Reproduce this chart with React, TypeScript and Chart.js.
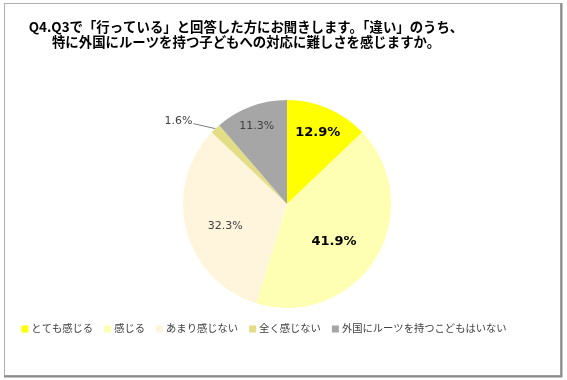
import { useEffect, useRef } from "react";
import { Chart, registerables } from "chart.js";

Chart.register(...registerables);

const titleLines = [
  "Q4.Q3で「行っている」と回答した方にお聞きします。「違い」のうち、",
  "特に外国にルーツを持つ子どもへの対応に難しさを感じますか。",
];
const categories = [
  "とても感じる",
  "感じる",
  "あまり感じない",
  "全く感じない",
  "外国にルーツを持つこどもはいない",
];
const values = [12.9, 41.9, 32.3, 1.6, 11.3];
const valueLabels = ["12.9%", "41.9%", "32.3%", "1.6%", "11.3%"];
const colors = ["#FFFF00", "#FFFFB3", "#FFF5DC", "#E3DE86", "#A6A6A6"];

// label styling per slice: radius fraction, angle offset (deg), bold, outside
const labelStyles = [
  { r: 0.75, da: 0, bold: true, size: 13, outside: false },
  { r: 0.58, da: 7, bold: true, size: 13, outside: false },
  { r: 0.63, da: -5, bold: false, size: 11, outside: false },
  { r: 1.0, da: 0, bold: false, size: 11, outside: true },
  { r: 0.8, da: -1, bold: false, size: 11, outside: false },
];

const JP = '"Noto Sans CJK JP", sans-serif';
const NUM = '"DejaVu Sans", sans-serif';

const decorPlugin = {
  id: "decor",
  beforeDraw(chart: any) {
    const ctx = chart.ctx;
    ctx.save();
    ctx.fillStyle = "#ffffff";
    ctx.fillRect(0, 0, chart.width, chart.height);
    ctx.restore();
  },
  afterDraw(chart: any) {
    const ctx = chart.ctx;
    const meta = chart.getDatasetMeta(0);
    ctx.save();

    // slice labels
    meta.data.forEach((arc: any, i: number) => {
      const st = labelStyles[i];
      const { x, y, startAngle, endAngle, outerRadius } = arc.getProps(
        ["x", "y", "startAngle", "endAngle", "outerRadius"],
        true
      );
      const mid = (startAngle + endAngle) / 2 + (st.da * Math.PI) / 180;
      ctx.fillStyle = "#404040";
      if (st.outside) {
        const ex = x + Math.cos(mid) * outerRadius;
        const ey = y + Math.sin(mid) * outerRadius;
        const lx = ex - 22;
        const ly = ey - 5;
        ctx.strokeStyle = "#7f7f7f";
        ctx.lineWidth = 1;
        ctx.beginPath();
        ctx.moveTo(ex, ey);
        ctx.lineTo(lx, ly);
        ctx.stroke();
        ctx.font = `${st.size}px ${NUM}`;
        ctx.textAlign = "right";
        ctx.textBaseline = "middle";
        ctx.fillText(valueLabels[i], lx - 1, ly - 2);
      } else {
        const lx = x + Math.cos(mid) * outerRadius * st.r;
        const ly = y + Math.sin(mid) * outerRadius * st.r;
        ctx.font = `${st.bold ? "bold " : ""}${st.size}px ${NUM}`;
        ctx.fillStyle = st.bold ? "#000000" : "#404040";
        ctx.textAlign = "center";
        ctx.textBaseline = "middle";
        ctx.fillText(valueLabels[i], lx, ly);
      }
    });

    // title
    ctx.fillStyle = "#000000";
    ctx.font = `bold 13.4px ${JP}`;
    ctx.textAlign = "center";
    ctx.textBaseline = "middle";
    titleLines.forEach((t, i) => {
      ctx.fillText(t, 246, 27 + i * 15);
    });

    // legend
    ctx.font = `10.3px ${JP}`;
    const box = 7;
    const gapBoxText = 3;
    const gapItems = 11;
    const widths = categories.map((c) => box + gapBoxText + ctx.measureText(c).width);
    const total = widths.reduce((a, b) => a + b, 0) + gapItems * (categories.length - 1);
    let lx = 264 - total / 2;
    const ly = 328;
    categories.forEach((c, i) => {
      ctx.fillStyle = colors[i];
      ctx.fillRect(lx, ly - box / 2 + 1, box, box);
      ctx.fillStyle = "#404040";
      ctx.textAlign = "left";
      ctx.textBaseline = "middle";
      ctx.fillText(c, lx + box + gapBoxText, ly);
      lx += widths[i] + gapItems;
    });

    // frame
    ctx.strokeStyle = "#b0b0b0";
    ctx.lineWidth = 1;
    ctx.strokeRect(4.5, 3.5, 556, 372);
    ctx.strokeStyle = "#8c8c8c";
    ctx.lineWidth = 2;
    ctx.beginPath();
    ctx.moveTo(561.5, 3);
    ctx.lineTo(561.5, 376.5);
    ctx.lineTo(4, 376.5);
    ctx.stroke();
    ctx.restore();
  },
};

export default function App() {
  const ref = useRef<HTMLCanvasElement>(null);
  useEffect(() => {
    document.body.style.margin = "0";
    if (!ref.current) return;
    const chart = new Chart(ref.current, {
      type: "pie",
      data: {
        labels: categories,
        datasets: [
          {
            data: values,
            backgroundColor: colors,
            borderWidth: 0,
          },
        ],
      },
      options: {
        responsive: false,
        animation: false,
        layout: { padding: { left: 183, right: 176, top: 100, bottom: 72 } },
        plugins: {
          legend: { display: false },
          title: { display: false },
          tooltip: { enabled: false },
        },
      },
      plugins: [decorPlugin],
    });
    return () => chart.destroy();
  }, []);
  return (
    <div style={{ width: 567, height: 380 }}>
      <canvas ref={ref} width={567} height={380} style={{ width: 567, height: 380, display: "block" }} />
    </div>
  );
}
